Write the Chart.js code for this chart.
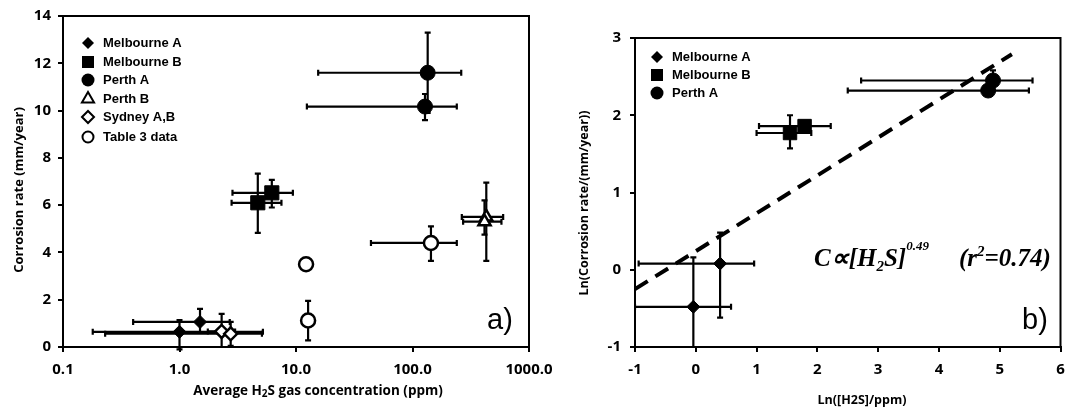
<!DOCTYPE html>
<html>
<head>
<meta charset="utf-8">
<script src="https://cdn.jsdelivr.net/npm/chart.js@4.4.1/dist/chart.umd.min.js"></script>
<style>
  html, body { margin: 0; padding: 0; background: #fff; width: 1071px; height: 414px; overflow: hidden; }
  #chartA { position: absolute; left: 0; top: 0; }
  #chartB { position: absolute; left: 540px; top: 0; }
</style>
</head>
<body>
<canvas id="chartA" width="565" height="414"></canvas>
<canvas id="chartB" width="531" height="414"></canvas>
<script>
// ---- panel a) : average H2S (ppm) vs corrosion rate (mm/year) ----
const aTicksX = [0.1, 1, 10, 100, 1000];
const aTickLabelsX = ["0.1", "1.0", "10.0", "100.0", "1000.0"];

const aMelbA_x = [1.0, 1.5];
const aMelbA_y = [0.64, 1.06];
const aMelbA_xlo = [0.18, 0.4];
const aMelbA_xhi = [5.2, 2.7];
const aMelbA_ylo = [-0.1, 0.6];
const aMelbA_yhi = [1.14, 1.61];

const aMelbB_x = [4.7, 6.2];
const aMelbB_y = [6.1, 6.52];
const aMelbB_xlo = [2.8, 2.85];
const aMelbB_xhi = [7.5, 9.4];
const aMelbB_ylo = [4.83, 5.9];
const aMelbB_yhi = [7.33, 7.07];

const aPerthA_x = [135, 128];
const aPerthA_y = [11.6, 10.17];
const aPerthA_xlo = [15.5, 12.4];
const aPerthA_xhi = [262, 240];
const aPerthA_ylo = [9.9, 9.6];
const aPerthA_yhi = [13.3, 10.7];

const aPerthB_x = [430, 415];
const aPerthB_y = [5.5, 5.3];
const aPerthB_xlo = [265, 272];
const aPerthB_xhi = [600, 580];
const aPerthB_ylo = [3.64, 4.75];
const aPerthB_yhi = [6.95, 6.2];

const aSyd_x = [2.3, 2.75];
const aSyd_y = [0.66, 0.56];
const aSyd_xlo = [1.75, 0.23];
const aSyd_xhi = [3.0, 5.1];
const aSyd_ylo = [0.0, 0.05];
const aSyd_yhi = [1.4, 1.06];

const aTab_x = [12.2, 12.7, 144];
const aTab_y = [3.5, 1.12, 4.4];
const aTab_xlo = [11.3, 12.7, 44];
const aTab_xhi = [13.0, 12.7, 240];
const aTab_ylo = [3.45, 0.28, 3.64];
const aTab_yhi = [3.55, 1.95, 5.1];

// ---- panel b) : ln-ln plot ----
const bMelbA_x = [-0.04, 0.4];
const bMelbA_y = [-0.48, 0.08];
const bMelbA_xlo = [-1.0, -0.94];
const bMelbA_xhi = [0.58, 0.96];
const bMelbA_ylo = [-1.0, -0.62];
const bMelbA_yhi = [0.16, 0.48];

const bMelbB_x = [1.55, 1.79];
const bMelbB_y = [1.77, 1.86];
const bMelbB_xlo = [1.0, 1.04];
const bMelbB_xhi = [1.9, 2.22];
const bMelbB_ylo = [1.57, 1.81];
const bMelbB_yhi = [2.0, 1.91];

const bPerthA_x = [4.89, 4.81];
const bPerthA_y = [2.45, 2.32];
const bPerthA_xlo = [2.72, 2.5];
const bPerthA_xhi = [5.54, 5.48];
const bPerthA_ylo = [2.38, 2.25];
const bPerthA_yhi = [2.58, 2.39];

const fit_x = [-1, 5.2];
const fit_y = [-0.25, 2.79];

const tickFont = { family: "Open Sans", weight: "bold", size: 15 };
const titleFont = 'bold 12.5px "Open Sans"';
const titleFontBig = 'bold 13.5px "Open Sans"';
const legendFont = 'bold 13px "Liberation Sans"';

function series(label, xs, ys, xlo, xhi, ylo, yhi, style, filled, radius) {
  return {
    label,
    data: xs.map((x, i) => ({ x, y: ys[i] })),
    xlo, xhi, ylo, yhi,
    pointStyle: style,
    pointRadius: radius,
    backgroundColor: filled ? "#000" : "#fff",
    borderColor: "#000",
    borderWidth: filled ? 1 : 2.5,
    showLine: false
  };
}

// error bars are drawn under the markers
const errorBars = {
  id: "errorBars",
  beforeDatasetsDraw(chart, args, opts) {
    const ctx = chart.ctx, xs = chart.scales.x, ys = chart.scales.y, a = chart.chartArea;
    ctx.save();
    if (opts.clip) {
      ctx.beginPath();
      ctx.rect(a.left, a.top, a.right - a.left, a.bottom - a.top);
      ctx.clip();
    }
    ctx.strokeStyle = "#000";
    ctx.lineWidth = 2.2;
    for (const ds of chart.data.datasets) {
      if (!ds.xlo) continue;
      ds.data.forEach((p, i) => {
        const px = xs.getPixelForValue(p.x), py = ys.getPixelForValue(p.y);
        const x1 = xs.getPixelForValue(ds.xlo[i]), x2 = xs.getPixelForValue(ds.xhi[i]);
        const y1 = ys.getPixelForValue(ds.ylo[i]), y2 = ys.getPixelForValue(ds.yhi[i]);
        ctx.beginPath();
        if (x2 - x1 > 1) {
          ctx.moveTo(x1, py); ctx.lineTo(x2, py);
          ctx.moveTo(x1, py - 3); ctx.lineTo(x1, py + 3);
          ctx.moveTo(x2, py - 3); ctx.lineTo(x2, py + 3);
        }
        if (y1 - y2 > 1) {
          ctx.moveTo(px, y1); ctx.lineTo(px, y2);
          ctx.moveTo(px - 3, y1); ctx.lineTo(px + 3, y1);
          ctx.moveTo(px - 3, y2); ctx.lineTo(px + 3, y2);
        }
        ctx.stroke();
      });
    }
    ctx.restore();
  }
};

// box round the plot area
const frame = {
  id: "frame",
  beforeDatasetsDraw(chart) {
    const ctx = chart.ctx, a = chart.chartArea;
    ctx.save();
    ctx.strokeStyle = "#000";
    ctx.lineWidth = 2;
    ctx.strokeRect(a.left, a.top, a.right - a.left, a.bottom - a.top);
    ctx.restore();
  }
};

function drawRuns(ctx, x, y, runs, center) {
  let total = 0;
  for (const r of runs) { ctx.font = r.font; total += ctx.measureText(r.t).width; }
  if (center) x -= total / 2;
  for (const r of runs) {
    ctx.font = r.font;
    ctx.fillText(r.t, x, y + (r.dy || 0));
    x += ctx.measureText(r.t).width;
  }
}

// legend, axis titles and notes
const labels = {
  id: "labels",
  afterDraw(chart, args, opts) {
    const ctx = chart.ctx;
    ctx.save();
    ctx.fillStyle = "#000";
    ctx.strokeStyle = "#000";
    ctx.textBaseline = "middle";
    ctx.textAlign = "left";
    for (const item of opts.legend) {
      ctx.fillStyle = item.filled ? "#000" : "#fff";
      ctx.lineWidth = 2;
      Chart.helpers.drawPoint(ctx, { pointStyle: item.style, radius: item.r, rotation: 0, borderWidth: item.filled ? 0 : 2 }, opts.legendX, item.y);
      ctx.fillStyle = "#000";
      ctx.font = legendFont;
      ctx.fillText(item.label, opts.legendX + 15, item.y);
    }
    // y title
    ctx.save();
    ctx.translate(opts.yTitle.x, opts.yTitle.y);
    ctx.rotate(-Math.PI / 2);
    ctx.textAlign = "center";
    ctx.font = opts.yTitle.font;
    ctx.fillText(opts.yTitle.text, 0, 0);
    ctx.restore();
    // x title
    ctx.textAlign = "left";
    drawRuns(ctx, opts.xTitle.x, opts.xTitle.y, opts.xTitle.runs, true);
    // panel letter
    ctx.textBaseline = "alphabetic";
    ctx.font = '29px "Liberation Sans"';
    ctx.fillText(opts.letter.text, opts.letter.x, opts.letter.y);
    if (opts.note) {
      for (const part of opts.note) drawRuns(ctx, part.x, part.y, part.runs, false);
    }
    ctx.restore();
  }
};

function axisX(extra) {
  return Object.assign({
    position: "bottom",
    afterFit: s => { s.height = 67; s.paddingLeft = 0; s.paddingRight = 0; },
    ticks: { font: tickFont, color: "#000", padding: 9, maxRotation: 0, autoSkip: false },
    grid: { drawOnChartArea: false, drawTicks: true, tickLength: 5, color: "#000", lineWidth: 2 },
    border: { color: "#000", width: 2 }
  }, extra);
}
function axisY(width, extra) {
  return Object.assign({
    afterFit: s => { s.width = width; s.paddingTop = 0; s.paddingBottom = 0; },
    grid: { drawOnChartArea: false, drawTicks: true, tickLength: 5, color: "#000", lineWidth: 2 },
    border: { color: "#000", width: 2 }
  }, extra);
}

const BI = 'italic bold 25px "Liberation Serif"';
const BIs = 'italic bold 15px "Liberation Serif"';

new Chart(document.getElementById("chartA"), {
  type: "scatter",
  data: {
    datasets: [
      series("Melbourne A", aMelbA_x, aMelbA_y, aMelbA_xlo, aMelbA_xhi, aMelbA_ylo, aMelbA_yhi, "rectRot", true, 6.5),
      series("Melbourne B", aMelbB_x, aMelbB_y, aMelbB_xlo, aMelbB_xhi, aMelbB_ylo, aMelbB_yhi, "rect", true, 10),
      series("Perth A", aPerthA_x, aPerthA_y, aPerthA_xlo, aPerthA_xhi, aPerthA_ylo, aPerthA_yhi, "circle", true, 7.5),
      series("Perth B", aPerthB_x, aPerthB_y, aPerthB_xlo, aPerthB_xhi, aPerthB_ylo, aPerthB_yhi, "triangle", false, 7),
      series("Sydney A,B", aSyd_x, aSyd_y, aSyd_xlo, aSyd_xhi, aSyd_ylo, aSyd_yhi, "rectRot", false, 6.5),
      series("Table 3 data", aTab_x, aTab_y, aTab_xlo, aTab_xhi, aTab_ylo, aTab_yhi, "circle", false, 7)
    ]
  },
  options: {
    responsive: false,
    animation: false,
    layout: { padding: { left: 0, top: 16, right: 36, bottom: 0 } },
    scales: {
      x: axisX({
        type: "logarithmic", min: 0.1, max: 1000,
        afterBuildTicks: s => { s.ticks = aTicksX.map(v => ({ value: v })); },
        ticks: { font: tickFont, color: "#000", padding: 9, maxRotation: 0, autoSkip: false,
                 callback: (v, i) => aTickLabelsX[i] }
      }),
      y: axisY(63, { min: 0, max: 14, ticks: { font: tickFont, color: "#000", padding: 7, stepSize: 2 } })
    },
    plugins: {
      legend: { display: false },
      tooltip: { enabled: false },
      errorBars: { clip: false },
      labels: {
        legendX: 88,
        legend: [
          { label: "Melbourne A", style: "rectRot", filled: true, r: 6, y: 43 },
          { label: "Melbourne B", style: "rect", filled: true, r: 8.5, y: 62 },
          { label: "Perth A", style: "circle", filled: true, r: 6.5, y: 80 },
          { label: "Perth B", style: "triangle", filled: false, r: 7, y: 99 },
          { label: "Sydney A,B", style: "rectRot", filled: false, r: 6, y: 117 },
          { label: "Table 3 data", style: "circle", filled: false, r: 5.5, y: 137 }
        ],
        yTitle: { text: "Corrosion rate (mm/year)", x: 19, y: 190, font: 'bold 13px "Open Sans"' },
        xTitle: { x: 318, y: 391, runs: [
          { t: "Average H", font: titleFontBig },
          { t: "2", font: 'bold 10px "Open Sans"', dy: 3 },
          { t: "S gas concentration (ppm)", font: titleFontBig }
        ] },
        letter: { text: "a)", x: 487, y: 329 }
      }
    }
  },
  plugins: [frame, errorBars, labels]
});

new Chart(document.getElementById("chartB"), {
  type: "scatter",
  data: {
    datasets: [
      { label: "fit", data: fit_x.map((x, i) => ({ x, y: fit_y[i] })), showLine: true, pointRadius: 0,
        borderColor: "#000", borderWidth: 4, borderDash: [15, 9], fill: false },
      series("Melbourne A", bMelbA_x, bMelbA_y, bMelbA_xlo, bMelbA_xhi, bMelbA_ylo, bMelbA_yhi, "rectRot", true, 6.5),
      series("Melbourne B", bMelbB_x, bMelbB_y, bMelbB_xlo, bMelbB_xhi, bMelbB_ylo, bMelbB_yhi, "rect", true, 9.5),
      series("Perth A", bPerthA_x, bPerthA_y, bPerthA_xlo, bPerthA_xhi, bPerthA_ylo, bPerthA_yhi, "circle", true, 7.5)
    ]
  },
  options: {
    responsive: false,
    animation: false,
    layout: { padding: { left: 0, top: 38, right: 5, bottom: 0 } },
    scales: {
      x: axisX({ type: "linear", min: -1, max: 6,
        ticks: { font: tickFont, color: "#000", padding: 9, maxRotation: 0, stepSize: 1 } }),
      y: axisY(95, { min: -1, max: 3, ticks: { font: tickFont, color: "#000", padding: 9, stepSize: 1 } })
    },
    plugins: {
      legend: { display: false },
      tooltip: { enabled: false },
      errorBars: { clip: true },
      labels: {
        legendX: 117,
        legend: [
          { label: "Melbourne A", style: "rectRot", filled: true, r: 6, y: 57 },
          { label: "Melbourne B", style: "rect", filled: true, r: 8.5, y: 75 },
          { label: "Perth A", style: "circle", filled: true, r: 6.5, y: 93 }
        ],
        yTitle: { text: "Ln(Corrosion rate/(mm/year))", x: 44, y: 203, font: titleFont },
        xTitle: { x: 322, y: 400, runs: [{ t: "Ln([H2S]/ppm)", font: titleFont }] },
        letter: { text: "b)", x: 482, y: 329 },
        note: [
          { x: 274, y: 266, runs: [
            { t: "C\u221D[H", font: BI },
            { t: "2", font: BIs, dy: 5 },
            { t: "S]", font: BI },
            { t: "0.49", font: 'italic bold 13px "Liberation Serif"', dy: -16 }
          ] },
          { x: 419, y: 266, runs: [
            { t: "(r", font: BI },
            { t: "2", font: BIs, dy: -10 },
            { t: "=0.74)", font: BI }
          ] }
        ]
      }
    }
  },
  plugins: [frame, errorBars, labels]
});
</script>
</body>
</html>
